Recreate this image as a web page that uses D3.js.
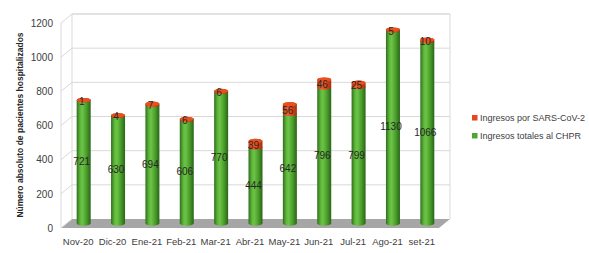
<!DOCTYPE html>
<html><head><meta charset="utf-8">
<script src="https://cdn.jsdelivr.net/npm/d3@7"></script>
<style>body{margin:0;background:#fff}svg{display:block}</style>
</head><body>
<svg id="c" width="589" height="253"></svg>
<script>
const categories = ["Nov-20","Dic-20","Ene-21","Feb-21","Mar-21","Abr-21","May-21","Jun-21","Jul-21","Ago-21","set-21"];
const totales = [721,630,694,606,770,444,642,796,799,1130,1066];
const covid = [1,4,7,6,6,39,56,46,25,5,10];
const yTicks = [0,200,400,600,800,1000,1200];
const seriesNames = ["Ingresos por SARS-CoV-2","Ingresos totales al CHPR"];
const seriesColors = ["#e8461c","#4ea72e"];
const yTitle = "Número absoluto de pacientes hospitalizados";

const svg = d3.select("#c");
const FONT = "'Liberation Sans', Arial, sans-serif";
const DX = 5.5, DY = 4.5; // depth half-offset
const x = d3.scaleBand().domain(categories).range([66.5, 444.5]).paddingInner(0);
const y = d3.scaleLinear().domain([0,1200]).range([223.5, 18.5]);
const xL = 66.5, xR = 444.5;

const defs = svg.append("defs");
function grad(id, stops){
  const g = defs.append("linearGradient").attr("id", id).attr("x1","0%").attr("x2","100%").attr("y1","0%").attr("y2","0%");
  stops.forEach(s=>g.append("stop").attr("offset", s[0]).attr("stop-color", s[1]));
}
grad("gG", [["0%","#2f6e1b"],["25%","#5fb63b"],["40%","#6cc447"],["70%","#4a9e2b"],["100%","#2a6418"]]);
grad("gR", [["0%","#b8320f"],["30%","#f0602e"],["60%","#e24a1c"],["100%","#a92c0c"]]);

// floor
const y0 = y(0);
svg.append("path")
  .attr("d", `M${xL+DX},${y0-DY} L${xR+DX},${y0-DY} L${xR-DX},${y0+DY} L${xL-DX},${y0+DY} Z`)
  .attr("fill", "#a6a6a6");

const gridC = "#d9d9d9";
svg.append("path")
  .attr("d", `M${xL+DX},${y0-DY} L${xL+DX},${y(1200)-DY} L${xR+DX},${y(1200)-DY} L${xR+DX},${y0-DY}`)
  .attr("fill","none").attr("stroke", gridC).attr("stroke-width",1);
svg.append("line").attr("x1", xL-DX).attr("x2", xL-DX).attr("y1", y(1200)+DY).attr("y2", y0+DY)
  .attr("stroke", gridC).attr("stroke-width",1);

yTicks.forEach(t=>{
  if (t>0) {
    svg.append("line").attr("x1", xL+DX).attr("x2", xR+DX).attr("y1", y(t)-DY).attr("y2", y(t)-DY)
      .attr("stroke", gridC).attr("stroke-width",1);
  }
  svg.append("line").attr("x1", xL-DX).attr("x2", xL+DX).attr("y1", y(t)+DY).attr("y2", y(t)-DY)
    .attr("stroke", gridC).attr("stroke-width",1);
});

// y axis labels (front plane)
const yFront = d3.scaleLinear().domain(y.domain()).range(y.range().map(v=>v+DY));
const ax = svg.append("g").attr("transform", `translate(${xL-DX-8},0)`)
  .call(d3.axisLeft(yFront).tickValues(yTicks).tickFormat(d3.format("d")).tickSize(0).tickPadding(0));
ax.select(".domain").remove();
ax.selectAll("text").attr("font-family", FONT).attr("font-size", 10).attr("fill", "#404040");

// x axis labels
const xFront = d3.scaleBand().domain(categories).range([xL-DX, xR-DX]);
const axB = svg.append("g").attr("transform", `translate(0,${y0+DY+6})`)
  .call(d3.axisBottom(xFront).tickSize(0).tickPadding(4));
axB.select(".domain").remove();
axB.selectAll("text").attr("font-family", FONT).attr("font-size", 9.5).attr("fill", "#404040");

// cylinders
const RX = 7, RY = 2.2;
function body(cx, yb, yt){
  return `M${cx-RX},${yt} L${cx-RX},${yb} A${RX},${RY} 0 0 0 ${cx+RX},${yb} L${cx+RX},${yt} A${RX},${RY} 0 0 0 ${cx-RX},${yt} Z`;
}
categories.forEach((c,i)=>{
  const cx = x(c) + x.bandwidth()/2;
  const yb = y(0), yg = y(totales[i]), yr = y(totales[i]+covid[i]);
  svg.append("path").attr("d", body(cx, yb, yg)).attr("fill", "url(#gG)");
  svg.append("path").attr("d", body(cx, yg, yr)).attr("fill", "url(#gR)");
  svg.append("ellipse").attr("cx", cx).attr("cy", yr).attr("rx", RX).attr("ry", RY).attr("fill", "#e8501f");
  svg.append("text").attr("x", cx-2).attr("y", (yb+yg)/2).attr("dy","0.35em")
    .attr("text-anchor","middle").attr("font-family", FONT).attr("font-size", 10).attr("fill","#262626")
    .text(totales[i]);
  svg.append("text").attr("x", cx-2).attr("y", (yg+yr)/2+1).attr("dy","0.35em")
    .attr("text-anchor","middle").attr("font-family", FONT).attr("font-size", 10).attr("fill","#262626")
    .text(covid[i]);
});

svg.append("text").attr("transform", "translate(23,125) rotate(-90)")
  .attr("text-anchor","middle").attr("font-family", FONT).attr("font-size", 8.5).attr("font-weight","bold")
  .attr("fill","#262626").text(yTitle);

seriesNames.forEach((n,i)=>{
  const ly = 118 + i*18;
  svg.append("rect").attr("x", 472).attr("y", ly-3).attr("width", 5.5).attr("height", 5.5).attr("fill", seriesColors[i]);
  svg.append("text").attr("x", 480).attr("y", ly).attr("dy","0.35em").attr("font-family", FONT)
    .attr("font-size", 9).attr("fill","#404040").text(n);
});
</script>
</body></html>
